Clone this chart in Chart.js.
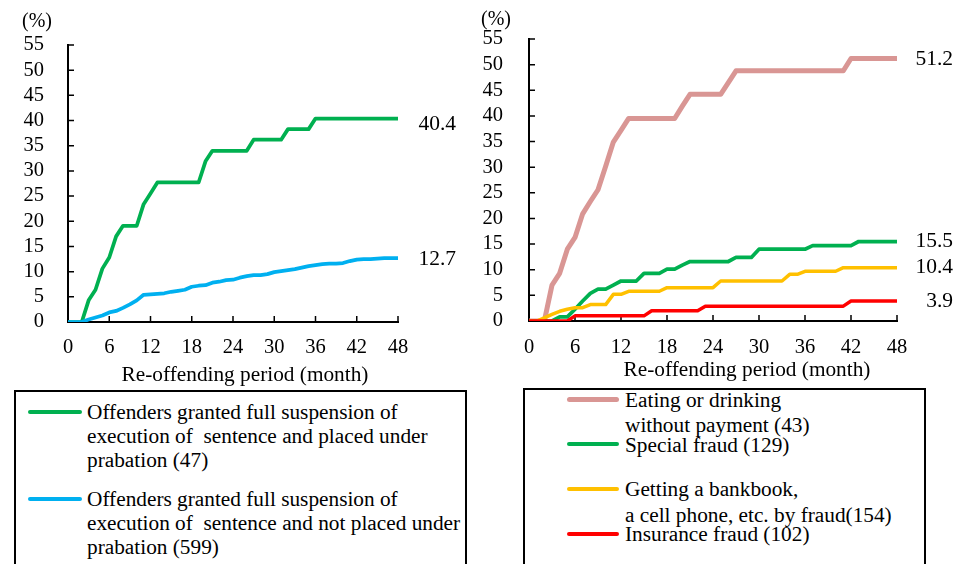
<!DOCTYPE html>
<html><head><meta charset="utf-8">
<script src="https://cdn.jsdelivr.net/npm/chart.js@4/dist/chart.umd.min.js"></script>
<style>
html,body{margin:0;padding:0;background:#fff;overflow:hidden;width:965px;height:564px;position:relative;font-family:"Liberation Serif","Times New Roman",serif;}
#c1{position:absolute;left:0;top:0;}
#c2{position:absolute;left:480px;top:0;}
.box{position:absolute;border:2px solid #000;box-sizing:border-box;background:#fff;}
.sw{position:absolute;border-radius:3px;}
.tx{position:absolute;font-size:21.3px;line-height:24px;white-space:pre;color:#000;}
</style></head><body>
<canvas id="c1" width="480" height="390"></canvas>
<canvas id="c2" width="485" height="390"></canvas>
<div id="legends"></div>
<script>
// ---------- data ----------
const months = [0,1,2,3,4,5,6,7,8,9,10,11,12,13,14,15,16,17,18,19,20,21,22,23,24,25,26,27,28,29,30,31,32,33,34,35,36,37,38,39,40,41,42,43,44,45,46,47,48];
const xTicks = [0,6,12,18,24,30,36,42,48];
const yTicks = [0,5,10,15,20,25,30,35,40,45,50,55];
const xTitle = 'Re-offending period (month)';
const yUnit = '(%)';

const leftNames = [
  'Offenders granted full suspension of\nexecution of  sentence and placed under\nprabation (47)',
  'Offenders granted full suspension of\nexecution of  sentence and not placed under\nprabation (599)'
];
const leftProbation = [0,0,0,4.3,6.4,10.6,12.8,17.0,19.1,19.1,19.1,23.4,25.5,27.7,27.7,27.7,27.7,27.7,27.7,27.7,31.9,34.0,34.0,34.0,34.0,34.0,34.0,36.2,36.2,36.2,36.2,36.2,38.3,38.3,38.3,38.3,40.4,40.4,40.4,40.4,40.4,40.4,40.4,40.4,40.4,40.4,40.4,40.4,40.4];
const leftNoProbation = [0,0,0,0.5,0.9,1.3,1.9,2.2,2.8,3.5,4.3,5.4,5.5,5.6,5.7,6.0,6.2,6.4,7.0,7.2,7.3,7.8,8.0,8.3,8.4,8.8,9.1,9.3,9.3,9.5,9.9,10.1,10.3,10.5,10.8,11.1,11.3,11.5,11.6,11.6,11.7,12.1,12.4,12.5,12.5,12.6,12.7,12.7,12.7];

const rightNames = [
  'Eating or drinking\nwithout payment (43)',
  'Special fraud (129)',
  'Getting a bankbook,\na cell phone, etc. by fraud(154)',
  'Insurance fraud (102)'
];
const eatingWithoutPayment = [0,0,0,7.0,9.3,14.0,16.3,20.9,23.3,25.6,30.2,34.9,37.2,39.5,39.5,39.5,39.5,39.5,39.5,39.5,41.9,44.2,44.2,44.2,44.2,44.2,46.5,48.8,48.8,48.8,48.8,48.8,48.8,48.8,48.8,48.8,48.8,48.8,48.8,48.8,48.8,48.8,51.2,51.2,51.2,51.2,51.2,51.2,51.2];
const specialFraud = [0,0,0,0,0.8,0.8,2.3,3.9,5.4,6.2,6.2,7.0,7.8,7.8,7.8,9.3,9.3,9.3,10.1,10.1,10.9,11.6,11.6,11.6,11.6,11.6,11.6,12.4,12.4,12.4,14.0,14.0,14.0,14.0,14.0,14.0,14.0,14.7,14.7,14.7,14.7,14.7,14.7,15.5,15.5,15.5,15.5,15.5,15.5];
const bankbookFraud = [0,0,0.6,1.3,1.9,2.3,2.6,2.6,3.2,3.2,3.2,5.2,5.2,5.8,5.8,5.8,5.8,5.8,6.5,6.5,6.5,6.5,6.5,6.5,6.5,7.8,7.8,7.8,7.8,7.8,7.8,7.8,7.8,7.8,9.1,9.1,9.7,9.7,9.7,9.7,9.7,10.4,10.4,10.4,10.4,10.4,10.4,10.4,10.4];
const insuranceFraud = [0,0,0,0,0,0,1.0,1.0,1.0,1.0,1.0,1.0,1.0,1.0,1.0,1.0,2.0,2.0,2.0,2.0,2.0,2.0,2.0,2.9,2.9,2.9,2.9,2.9,2.9,2.9,2.9,2.9,2.9,2.9,2.9,2.9,2.9,2.9,2.9,2.9,2.9,2.9,3.9,3.9,3.9,3.9,3.9,3.9,3.9];

// ---------- styling ----------
const FONT = '"Liberation Serif","Times New Roman",serif';
const pts = arr => months.map((m,i)=>({x:m, y:arr[i]}));

function mkDs(label, arr, color, width, order){
  return {label, data: pts(arr), borderColor: color, backgroundColor: color, borderWidth: width,
    pointRadius: 0, tension: 0, fill: false, borderJoinStyle: 'round', borderCapStyle: 'round', order};
}

const decor = {
  id: 'decor',
  beforeDatasetsDraw(chart){
    const {ctx, chartArea: a, scales: {x, y}} = chart;
    ctx.save();
    ctx.strokeStyle = '#000'; ctx.lineWidth = 1.5;
    ctx.beginPath();
    y.ticks.forEach(t => { const py = y.getPixelForValue(t.value); ctx.moveTo(a.left, py); ctx.lineTo(a.left + 6, py); });
    x.ticks.forEach(t => { const px = x.getPixelForValue(t.value); ctx.moveTo(px, a.bottom); ctx.lineTo(px, a.bottom - 6); });
    ctx.stroke();
    ctx.restore();
  },
  afterDraw(chart, args, o){
    const {ctx, chartArea: a, scales: {y}} = chart;
    ctx.save();
    ctx.fillStyle = '#000';
    ctx.textAlign = 'center'; ctx.textBaseline = 'middle';
    ctx.font = '20px ' + FONT;
    ctx.fillText(yUnit, o.pctX, o.pctY);
    ctx.textBaseline = 'alphabetic';
    ctx.font = '21.3px ' + FONT;
    ctx.fillText(xTitle, (a.left + a.right) / 2 + o.titleDx, o.titleY);
    ctx.textAlign = 'right'; ctx.textBaseline = 'middle';
    ctx.font = '21.5px ' + FONT;
    chart.data.datasets.forEach((ds, i) => {
      const last = ds.data[ds.data.length - 1].y;
      ctx.fillText(last.toFixed(1), a.right + o.endDx, y.getPixelForValue(last) + (o.endDy[i] || 0));
    });
    ctx.restore();
  }
};

function makeChart(id, datasets, geo){
  return new Chart(document.getElementById(id), {
    type: 'line',
    data: { datasets },
    options: {
      responsive: false, animation: false, devicePixelRatio: 1,
      layout: { padding: { left: 0, right: geo.padRight, top: geo.padTop, bottom: 0 } },
      plugins: { legend: { display: false }, tooltip: { enabled: false }, decor: geo.decor },
      scales: {
        x: {
          type: 'linear', min: 0, max: 48,
          afterBuildTicks: s => { s.ticks = xTicks.map(v => ({value: v})); },
          afterFit: s => { s.height = geo.xHeight; },
          grid: { display: false, drawTicks: false },
          border: { display: true, color: '#000', width: 2 },
          ticks: { color: '#000', font: { family: FONT, size: 20.5 }, padding: geo.xPad, maxRotation: 0, autoSkip: false }
        },
        y: {
          min: 0, max: 55,
          afterBuildTicks: s => { s.ticks = yTicks.map(v => ({value: v})); },
          afterFit: s => { s.width = geo.yWidth; },
          grid: { display: false, drawTicks: false },
          border: { display: true, color: '#000', width: 2 },
          ticks: { color: '#000', font: { family: FONT, size: 20.5 }, padding: geo.yPad, autoSkip: false }
        }
      }
    },
    plugins: [decor]
  });
}

makeChart('c1', [
  mkDs(leftNames[0], leftProbation, '#00B050', 3.75, 2),
  mkDs(leftNames[1], leftNoProbation, '#00B0F0', 3.75, 1)
], { padRight: 82, padTop: 45, xHeight: 68, yWidth: 68, xPad: 13, yPad: 24,
     decor: { pctX: 37, pctY: 22, titleDx: 12, titleY: 381, endDx: 58, endDy: [6, 1] } });

makeChart('c2', [
  mkDs(rightNames[0], eatingWithoutPayment, '#D99694', 5, 4),
  mkDs(rightNames[1], specialFraud, '#00B050', 3.75, 3),
  mkDs(rightNames[2], bankbookFraud, '#FFC000', 3.5, 2),
  mkDs(rightNames[3], insuranceFraud, '#FF0000', 3.5, 1)
], { padRight: 68, padTop: 39, xHeight: 69, yWidth: 49, xPad: 14, yPad: 26,
     decor: { pctX: 16, pctY: 20, titleDx: 34, titleY: 376, endDx: 56, endDy: [1, 0, 0, 0] } });

// ---------- legends (HTML) ----------
const L = document.getElementById('legends');
function box(x, y, w, h){ const d = document.createElement('div'); d.className = 'box'; Object.assign(d.style, {left: x+'px', top: y+'px', width: w+'px', height: h+'px'}); L.appendChild(d); }
function entry(name, color, sx, sw, sy, th, tx, ty, lh){
  const s = document.createElement('div'); s.className = 'sw';
  Object.assign(s.style, {left: sx+'px', top: (sy - th/2)+'px', width: sw+'px', height: th+'px', background: color});
  L.appendChild(s);
  name.split('\n').forEach((line, i) => {
    const t = document.createElement('div'); t.className = 'tx'; t.textContent = line;
    Object.assign(t.style, {left: tx+'px', top: (ty + i*lh)+'px'});
    L.appendChild(t);
  });
}
box(14, 390, 453, 200);
entry(leftNames[0], '#00B050', 28, 54, 412, 4, 87, 400, 24);
entry(leftNames[1], '#00B0F0', 28, 54, 499, 4, 87, 487, 24);
box(523, 388, 403, 200);
entry(rightNames[0], '#D99694', 567, 52, 399, 5, 625, 388, 25);
entry(rightNames[1], '#00B050', 567, 52, 444, 4, 625, 433, 25);
entry(rightNames[2], '#FFC000', 567, 52, 489, 4, 625, 477, 26);
entry(rightNames[3], '#FF0000', 567, 52, 534, 4, 625, 522, 25);
</script>
</body></html>
